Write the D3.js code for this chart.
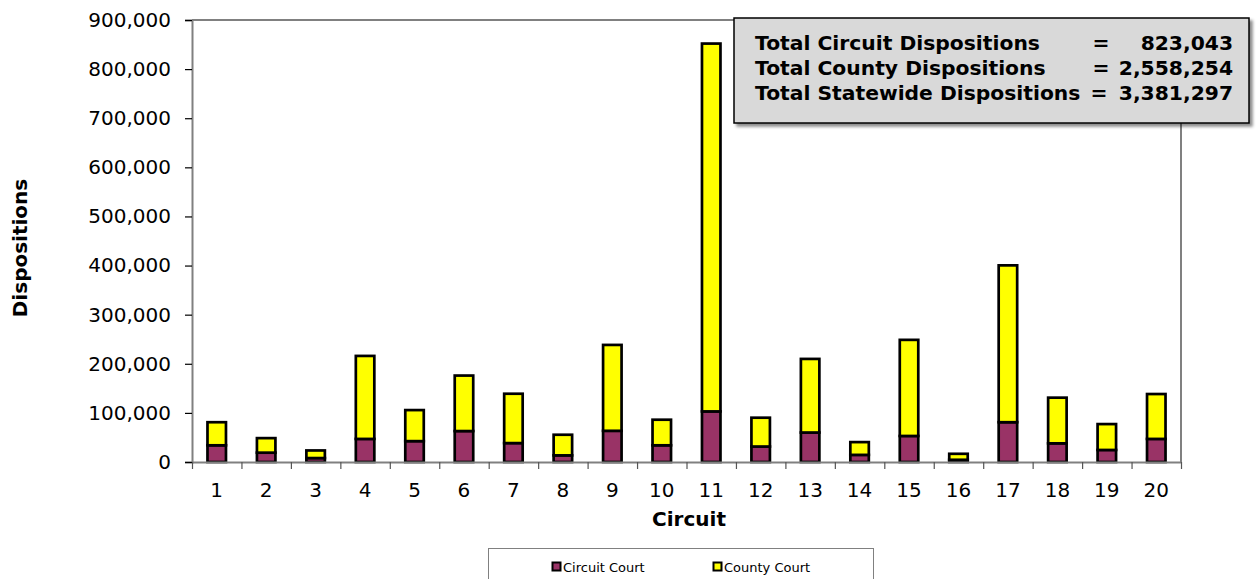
<!DOCTYPE html>
<html>
<head>
<meta charset="utf-8">
<script src="https://cdn.jsdelivr.net/npm/d3@7"></script>
<style>
  html, body { margin: 0; padding: 0; background: #fff; }
  svg { display: block; font-family: "DejaVu Sans", Verdana, sans-serif; }
</style>
</head>
<body>
<svg id="chart" width="1259" height="579"></svg>
<script>
const circuits = ["1","2","3","4","5","6","7","8","9","10","11","12","13","14","15","16","17","18","19","20"];
const circuitCourt = [34000, 19000, 8000, 47000, 42500, 63000, 38500, 13500, 63500, 34000, 103000, 31500, 60000, 14500, 53000, 4500, 81000, 38000, 24500, 47000];
const countyCourt = [47000, 29600, 15500, 169000, 63200, 113000, 100500, 42000, 174900, 52100, 749000, 58700, 149900, 26000, 195700, 12200, 319400, 93000, 52700, 91400];
const seriesNames = ["Circuit Court", "County Court"];
const seriesColors = ["#993366", "#FFFF00"];
const yTicks = [0, 100000, 200000, 300000, 400000, 500000, 600000, 700000, 800000, 900000];
const totalLabels = ["Total Circuit Dispositions", "Total County Dispositions", "Total Statewide Dispositions"];
const totalValues = ["823,043", "2,558,254", "3,381,297"];

const svg = d3.select("#chart");
const plot = { left: 192, right: 1181, top: 20, bottom: 462 };

const x = d3.scaleBand().domain(circuits).range([plot.left, plot.right]).paddingInner(0.626).paddingOuter(0.313);
const xBounds = d3.scaleLinear().domain([0, circuits.length]).range([plot.left, plot.right]);
const y = d3.scaleLinear().domain([0, 900000]).range([plot.bottom, plot.top]);

const rows = circuits.map((c, i) => ({ circuit: c, "Circuit Court": circuitCourt[i], "County Court": countyCourt[i] }));
const stacked = d3.stack().keys(seriesNames)(rows);

const defs = svg.append("defs");
const f = defs.append("filter").attr("id", "shadow").attr("x", "-10%").attr("y", "-10%").attr("width", "130%").attr("height", "140%");
f.append("feDropShadow").attr("dx", 3).attr("dy", 3).attr("stdDeviation", 1.5).attr("flood-color", "#000").attr("flood-opacity", 0.45);

// plot frame (top & right)
svg.append("path")
  .attr("d", `M${plot.left},${plot.top}H${plot.right}V${plot.bottom}`)
  .attr("fill", "none").attr("stroke", "#808080").attr("stroke-width", 2);

// bars
svg.append("g").selectAll("g").data(stacked).join("g")
  .attr("fill", (d, i) => seriesColors[i])
  .selectAll("rect").data(d => d).join("rect")
  .attr("x", d => x(d.data.circuit))
  .attr("width", x.bandwidth())
  .attr("y", d => y(d[1]))
  .attr("height", d => y(d[0]) - y(d[1]))
  .attr("stroke", "#000").attr("stroke-width", 2.7);

// y axis
const yAxis = svg.append("g").attr("transform", `translate(${plot.left},0)`)
  .call(d3.axisLeft(y).tickValues(yTicks).tickFormat(d3.format(",")).tickSize(7).tickPadding(14));
yAxis.select(".domain").attr("stroke", "#808080").attr("stroke-width", 2);
yAxis.selectAll(".tick line").attr("stroke", "#000").attr("stroke-width", 1.2);
yAxis.selectAll(".tick text").attr("font-size", 20).attr("fill", "#000").attr("font-family", "DejaVu Sans");

// x axis: ticks at category boundaries
const xAxis = svg.append("g").attr("transform", `translate(0,${plot.bottom})`)
  .call(d3.axisBottom(xBounds).tickValues(d3.range(0, circuits.length + 1)).tickFormat("").tickSize(7).tickSizeOuter(0));
xAxis.select(".domain").attr("stroke", "#808080").attr("stroke-width", 2);
xAxis.selectAll(".tick line").attr("stroke", "#555").attr("stroke-width", 1.2);

// x labels
const xLab = svg.append("g").attr("transform", `translate(0,${plot.bottom})`)
  .call(d3.axisBottom(x).tickSize(0).tickPadding(0));
xLab.select(".domain").remove();
xLab.selectAll(".tick text").attr("font-size", 20).attr("fill", "#000").attr("font-family", "DejaVu Sans")
  .attr("dy", null).attr("y", 35);

// axis titles
svg.append("text").attr("x", 689).attr("y", 526).attr("text-anchor", "middle")
  .attr("font-size", 20).attr("font-weight", "bold").text("Circuit");
svg.append("text").attr("transform", "translate(27,248) rotate(-90)").attr("text-anchor", "middle")
  .attr("font-size", 20).attr("font-weight", "bold").text("Dispositions");

// totals box
const box = svg.append("g");
box.append("rect").attr("x", 734).attr("y", 18).attr("width", 515).attr("height", 105)
  .attr("fill", "#d9d9d9").attr("stroke", "#000").attr("stroke-width", 1.5).attr("filter", "url(#shadow)");
const eqX = [1101, 1101, 1099];
totalLabels.forEach((t, i) => {
  const by = 50 + i * 25;
  box.append("text").attr("x", 755).attr("y", by).attr("font-size", 20.3).attr("font-weight", "bold").text(t);
  box.append("text").attr("x", eqX[i]).attr("y", by).attr("text-anchor", "middle").attr("font-size", 20.3).attr("font-weight", "bold").text("=");
  box.append("text").attr("x", 1233).attr("y", by).attr("text-anchor", "end").attr("font-size", 20.3).attr("font-weight", "bold").text(totalValues[i]);
});

// legend
const lg = svg.append("g");
lg.append("rect").attr("x", 488.5).attr("y", 548.5).attr("width", 385).attr("height", 40)
  .attr("fill", "#fff").attr("stroke", "#808080").attr("stroke-width", 1);
const legX = [552, 713];
seriesNames.forEach((n, i) => {
  lg.append("rect").attr("x", legX[i] + 0.5).attr("y", 562.5).attr("width", 8).attr("height", 8)
    .attr("fill", seriesColors[i]).attr("stroke", "#000").attr("stroke-width", 2);
  lg.append("text").attr("x", legX[i] + 11).attr("y", 572).attr("font-size", 13).text(n);
});
</script>
</body>
</html>
